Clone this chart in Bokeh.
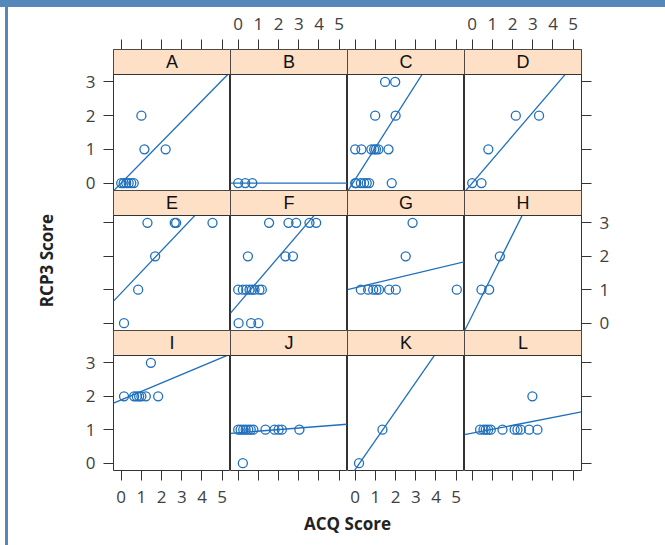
from bokeh.plotting import figure
from bokeh.layouts import column, row
from bokeh.models import LinearAxis, FixedTicker, BoxAnnotation, Label, Range1d, Div
from bokeh.embed import file_html
from bokeh.resources import INLINE

# ---------------- data ----------------
panel_names = ["A", "B", "C", "D", "E", "F", "G", "H", "I", "J", "K", "L"]

A_x = [0.0, 0.12, 0.25, 0.37, 0.5, 0.62, 1.0, 1.15, 2.2]
A_y = [0, 0, 0, 0, 0, 0, 2, 1, 1]
B_x = [0.0, 0.35, 0.7]
B_y = [0, 0, 0]
C_x = [1.48, 1.98, 0.99, 2.0, 0.0, 0.31, 0.8, 0.94, 1.03, 1.15, 1.65, 0.0, 0.05, 0.28, 0.44, 0.57, 0.69, 1.81]
C_y = [3, 3, 2, 2, 1, 1, 1, 1, 1, 1, 1, 0, 0, 0, 0, 0, 0, 0]
D_x = [0.0, 0.46, 0.8, 2.16, 3.31]
D_y = [0, 0, 1, 2, 2]
E_x = [1.3, 2.65, 2.72, 4.52, 1.68, 0.84, 0.14]
E_y = [3, 3, 3, 3, 2, 1, 0]
F_x = [1.53, 2.49, 2.87, 3.53, 3.86, 0.48, 2.34, 2.71, 0.0, 0.23, 0.4, 0.56, 0.68, 0.81, 1.05, 1.17, 0.02, 0.64, 1.0]
F_y = [3, 3, 3, 3, 3, 2, 2, 2, 1, 1, 1, 1, 1, 1, 1, 1, 0, 0, 0]
G_x = [2.84, 2.5, 0.28, 0.64, 0.89, 1.05, 1.18, 1.68, 2.01, 5.03]
G_y = [3, 2, 1, 1, 1, 1, 1, 1, 1, 1]
H_x = [1.37, 0.46, 0.84]
H_y = [2, 1, 1]
I_x = [1.47, 0.14, 0.64, 0.77, 0.89, 1.0, 1.22, 1.83]
I_y = [3, 2, 2, 2, 2, 2, 2, 2]
J_x = [0.23, 0.0, 0.12, 0.25, 0.37, 0.5, 0.62, 0.75, 1.35, 1.8, 2.0, 2.16, 3.03]
J_y = [0, 1, 1, 1, 1, 1, 1, 1, 1, 1, 1, 1, 1]
K_x = [0.19, 1.35]
K_y = [0, 1]
L_x = [2.98, 0.39, 0.56, 0.67, 0.79, 0.92, 1.5, 2.1, 2.24, 2.4, 2.82, 3.23]
L_y = [2, 1, 1, 1, 1, 1, 1, 1, 1, 1, 1, 1]

line_intercepts = [0.0, 0.0, 0.11, 0.0, 0.90, 0.57, 1.055, 0.23, 1.89, 0.91, -0.19, 0.895]
line_slopes = [0.61, 0.0, 0.94, 0.70, 0.636, 0.705, 0.144, 1.21, 0.254, 0.047, 0.87, 0.118]

x_ticks = [0, 1, 2, 3, 4, 5]
y_ticks = [0, 1, 2, 3]

xs = [A_x, B_x, C_x, D_x, E_x, F_x, G_x, H_x, I_x, J_x, K_x, L_x]
ys = [A_y, B_y, C_y, D_y, E_y, F_y, G_y, H_y, I_y, J_y, K_y, L_y]

# ---------------- style / layout ----------------
BLUE = "#1f6fbd"
STRIP = "#fde0c5"
FRAME = "#333333"
TICKC = "#404040"
TICK_FONT = "Open Sans"
X_START, X_END = -0.381, 5.411
Y_START, Y_END = -0.22, 3.22
STRIP_PX = 25
PANEL_W = 117
PANEL_H = [116, 115, 115]
LEFT_B, RIGHT_B, TOP_B, BOT_B = 113, 40, 49, 40
EXT = 14  # hidden overlap below rows 1 and 2 (keeps edge labels inside canvas)


def style_axis(ax, show_labels):
    ax.axis_line_color = None
    ax.major_tick_line_color = FRAME
    ax.major_tick_out = 10
    ax.major_tick_in = 0
    ax.minor_tick_out = 0
    ax.minor_tick_in = 0
    ax.major_label_text_font = TICK_FONT
    ax.major_label_text_font_size = "17px"
    ax.major_label_text_color = TICKC
    if not show_labels:
        ax.major_label_text_alpha = 0


row_layouts = []
for r in range(3):
    row_figs = []
    for c in range(4):
        k = r * 4 + c
        ph = PANEL_H[r]
        fh = ph + STRIP_PX
        ytop = Y_END + STRIP_PX * (Y_END - Y_START) / ph
        bl = LEFT_B if c == 0 else 0
        br = RIGHT_B if c == 3 else 0
        bt = TOP_B if r == 0 else 0
        bb = BOT_B if r == 2 else EXT
        p = figure(width=bl + PANEL_W + br, height=bt + fh + bb,
                   x_range=Range1d(X_START, X_END), y_range=Range1d(Y_START, ytop),
                   x_axis_location=None, y_axis_location=None,
                   toolbar_location=None, output_backend="svg",
                   min_border_left=bl, min_border_right=br,
                   min_border_top=bt, min_border_bottom=bb)
        p.xgrid.visible = False
        p.ygrid.visible = False
        p.outline_line_color = FRAME
        p.outline_line_width = 1
        p.background_fill_color = "white"
        p.border_fill_color = None

        a, b = line_intercepts[k], line_slopes[k]
        p.line([X_START, X_END], [a + b * X_START, a + b * X_END],
               line_color=BLUE, line_width=1.3)
        p.scatter(xs[k], ys[k], marker="circle", size=9, fill_color=None,
                  line_color=BLUE, line_width=1.3)

        strip = BoxAnnotation(bottom=Y_END, fill_color=STRIP, fill_alpha=1.0,
                              line_color=FRAME, line_width=1, line_alpha=1.0)
        p.add_layout(strip)
        p.add_layout(Label(x=(X_START + X_END) / 2, y=(Y_END + ytop) / 2,
                           text=panel_names[k], text_align="center",
                           text_baseline="middle", text_font="Liberation Sans",
                           text_font_size="18px", text_color="#111111"))

        if c == 0:
            ax = LinearAxis(ticker=FixedTicker(ticks=y_ticks), major_label_standoff=8)
            style_axis(ax, r in (0, 2))
            if r == 1:
                ax.axis_label = "RCP3 Score"
                ax.axis_label_text_font = "Open Sans"
                ax.axis_label_text_font_style = "bold"
                ax.axis_label_text_font_size = "17px"
                ax.axis_label_text_color = "#222222"
                ax.axis_label_standoff = 46
            p.add_layout(ax, "left")
        if c == 3:
            ax = LinearAxis(ticker=FixedTicker(ticks=y_ticks), major_label_standoff=8)
            style_axis(ax, r == 1)
            p.add_layout(ax, "right")
        if r == 0:
            ax = LinearAxis(ticker=FixedTicker(ticks=x_ticks), major_label_standoff=10)
            style_axis(ax, c in (1, 3))
            p.add_layout(ax, "above")
        if r == 2:
            ax = LinearAxis(ticker=FixedTicker(ticks=x_ticks), major_label_standoff=10)
            style_axis(ax, c in (0, 2))
            p.add_layout(ax, "below")
        row_figs.append(p)
    styles = {"margin-bottom": f"-{EXT}px"} if r < 2 else {}
    row_layouts.append(row(*row_figs, spacing=0, styles=styles))

t = figure(width=LEFT_B + 4 * PANEL_W + RIGHT_B, height=26,
           x_range=Range1d(0, 1), y_range=Range1d(0, 1),
           x_axis_location=None, y_axis_location=None,
           toolbar_location=None, output_backend="svg",
           min_border_left=LEFT_B, min_border_right=RIGHT_B,
           min_border_top=0, min_border_bottom=0)
t.xgrid.visible = False
t.ygrid.visible = False
t.outline_line_color = None
t.border_fill_color = None
t.background_fill_color = None
t.add_layout(Label(x=0.5, y=0.5, text="ACQ Score", text_align="center",
                   text_baseline="middle", text_font="Open Sans",
                   text_font_style="bold", text_font_size="17px",
                   text_color="#222222"))

top_bar = Div(text="", width=665, height=7, margin=0,
              styles={"position": "fixed", "left": "0px", "top": "0px",
                      "width": "665px", "height": "7px", "margin": "0px",
                      "background-color": "#5687ba"})
left_bar = Div(text="", width=3, height=545, margin=0,
               styles={"position": "fixed", "left": "5px", "top": "0px",
                       "width": "2.5px", "height": "545px", "margin": "0px",
                       "background-color": "#5687ba"})

page = column(*row_layouts, t, top_bar, left_bar, spacing=0)

with open("out.html", "w") as f:
    f.write(file_html(page, INLINE))
